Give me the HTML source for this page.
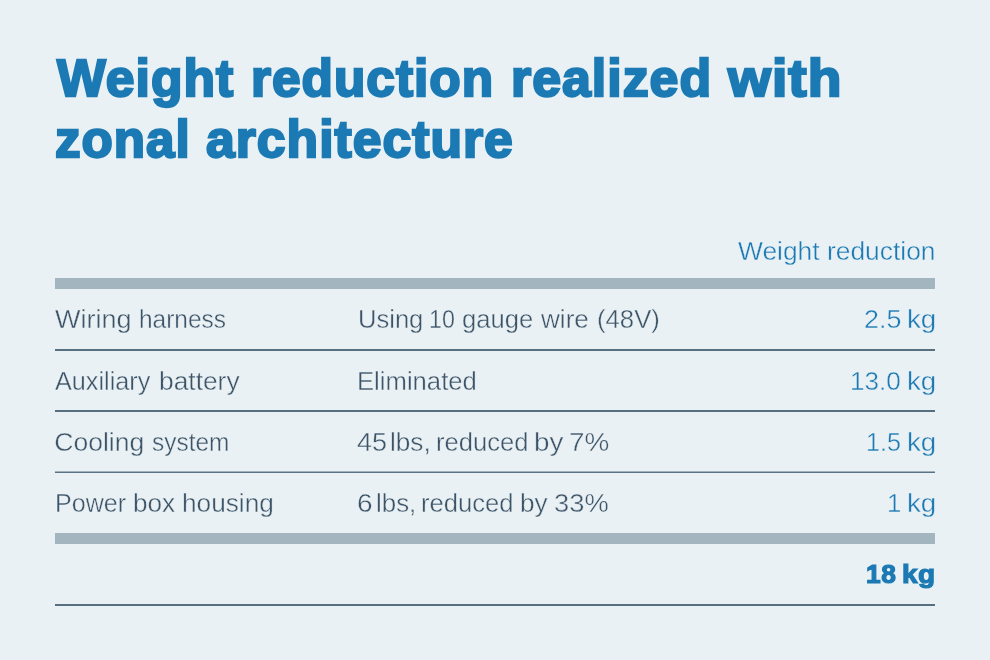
<!DOCTYPE html>
<html lang="en">
<head>
<meta charset="utf-8">
<title>Weight reduction realized with zonal architecture</title>
<style>
html,body{margin:0;padding:0;}
body{width:990px;height:660px;background:#e9f1f4;position:relative;overflow:hidden;font-family:"Liberation Sans", sans-serif;}
.t{position:absolute;left:0;margin:0;white-space:nowrap;line-height:1;font-weight:normal;width:990px;height:1em;}
.t span{position:absolute;top:0;transform-origin:0 0;display:block;}
.h{font-weight:bold;font-size:51.5px;color:#1b79b4;-webkit-text-stroke:2.3px #1b79b4;letter-spacing:1px;}
.b{font-size:26.5px;color:#3d5468;-webkit-text-stroke:0.4px #e9f1f4;}
.v{font-size:26.5px;color:#1b79b4;-webkit-text-stroke:0.4px #e9f1f4;}
.vb{font-weight:bold;font-size:26.5px;color:#1b79b4;-webkit-text-stroke:1.2px #1b79b4;letter-spacing:0.5px;}
.bar{position:absolute;left:55px;width:880px;height:11px;background:#a3b6c0;}
.ln{position:absolute;left:55px;width:880px;height:2px;background:#566f81;}
.ln3{background:linear-gradient(to bottom,#a0b1bc 50%,#5a7385 50%);}
</style>
</head>
<body>
<h1 class="t h" style="top:53px"><span style="left:57.20px;transform:scaleX(1.0031)">Weight</span> <span style="left:250.75px;transform:scaleX(0.9979)">reduction</span> <span style="left:511.24px;transform:scaleX(1.0064)">realized</span> <span style="left:727.61px;transform:scaleX(1.0711)">with</span></h1>
<h1 class="t h" style="top:114px"><span style="left:55.01px;transform:scaleX(0.9936)">zonal</span> <span style="left:205.75px;transform:scaleX(1.0033)">architecture</span></h1>
<p class="t v" style="top:238px"><span style="left:737.60px;transform:scaleX(0.9951)">Weight</span> <span style="left:827.31px;transform:scaleX(0.9952)">reduction</span></p>
<div class="bar" style="top:278px"></div>
<p class="t b" style="top:306px"><span style="left:54.99px;transform:scaleX(1.0199)">Wiring</span> <span style="left:138.85px;transform:scaleX(0.9231)">harness</span></p>
<p class="t b" style="top:306px"><span style="left:357.83px;transform:scaleX(0.9638)">Using</span> <span style="left:428.93px;transform:scaleX(0.8769)">10</span> <span style="left:462.29px;transform:scaleX(0.9648)">gauge</span> <span style="left:541.25px;transform:scaleX(0.9851)">wire</span> <span style="left:596.50px;transform:scaleX(0.9698)">(48V)</span></p>
<p class="t v" style="top:306px"><span style="left:863.98px;transform:scaleX(1.0147)">2.5</span> <span style="left:907.01px;transform:scaleX(1.0458)">kg</span></p>
<div class="ln" style="top:349px"></div>
<p class="t b" style="top:368px"><span style="left:55.32px;transform:scaleX(0.9521)">Auxiliary</span> <span style="left:158.51px;transform:scaleX(0.9943)">battery</span></p>
<p class="t b" style="top:368px"><span style="left:357.32px;transform:scaleX(0.9682)">Eliminated</span></p>
<p class="t v" style="top:368px"><span style="left:850.48px;transform:scaleX(0.9854)">13.0</span> <span style="left:907.01px;transform:scaleX(1.0458)">kg</span></p>
<div class="ln" style="top:410px"></div>
<p class="t b" style="top:429px"><span style="left:54.30px;transform:scaleX(1.0000)">Cooling</span> <span style="left:151.78px;transform:scaleX(0.9222)">system</span></p>
<p class="t b" style="top:429px"><span style="left:356.83px;transform:scaleX(1.0218)">45</span> <span style="left:390.32px;transform:scaleX(0.9878)">lbs,</span> <span style="left:436.37px;transform:scaleX(0.9646)">reduced</span> <span style="left:534.40px;transform:scaleX(1.0485)">by</span> <span style="left:569.22px;transform:scaleX(1.0517)">7%</span></p>
<p class="t v" style="top:429px"><span style="left:866.15px;transform:scaleX(0.9534)">1.5</span> <span style="left:907.01px;transform:scaleX(1.0458)">kg</span></p>
<div class="ln ln3" style="top:471px"></div>
<p class="t b" style="top:490px"><span style="left:54.87px;transform:scaleX(0.9453)">Power</span> <span style="left:133.03px;transform:scaleX(0.9875)">box</span> <span style="left:182.22px;transform:scaleX(0.9888)">housing</span></p>
<p class="t b" style="top:490px"><span style="left:356.71px;transform:scaleX(1.0583)">6</span> <span style="left:375.55px;transform:scaleX(0.9769)">lbs,</span> <span style="left:421.37px;transform:scaleX(0.9657)">reduced</span> <span style="left:519.83px;transform:scaleX(0.9864)">by</span> <span style="left:554.41px;transform:scaleX(1.0305)">33%</span></p>
<p class="t v" style="top:490px"><span style="left:887.11px;transform:scaleX(0.9727)">1</span> <span style="left:907.01px;transform:scaleX(1.0458)">kg</span></p>
<div class="bar" style="top:533px"></div>
<p class="t vb" style="top:561px"><span style="left:865.91px;transform:scaleX(0.9948)">18</span> <span style="left:901.98px;transform:scaleX(1.0552)">kg</span></p>
<div class="ln" style="top:604px"></div>
</body>
</html>
